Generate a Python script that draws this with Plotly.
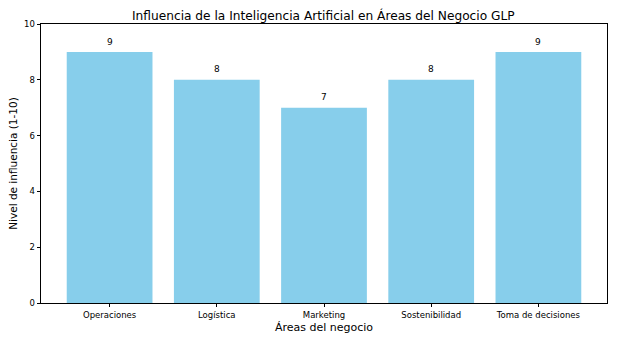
import plotly.graph_objects as go

categories = ["Operaciones", "Logística", "Marketing", "Sostenibilidad", "Toma de decisiones"]
values = [9, 8, 7, 8, 9]
y_ticks = [0, 2, 4, 6, 8, 10]

font = "DejaVu Sans"
fig = go.Figure()
fig.add_trace(go.Bar(
    x=list(range(len(categories))), y=values, width=0.8,
    marker=dict(color="#87CEEB", line=dict(width=0)),
    hoverinfo="skip",
))
for i, v in enumerate(values):
    fig.add_annotation(x=i, y=v + 0.12, text=str(v), showarrow=False,
                       yanchor="bottom", font=dict(family=font, size=9, color="black"))

axis_common = dict(showline=True, linecolor="black", linewidth=0.8, mirror=True,
                   ticks="outside", ticklen=3.5, tickcolor="black", tickwidth=0.8,
                   showgrid=False, zeroline=False, automargin=False,
                   tickfont=dict(family=font, size=8.5, color="black"))
fig.update_layout(
    width=617, height=340,
    margin=dict(l=41, r=10, t=24, b=37),
    plot_bgcolor="white", paper_bgcolor="white",
    showlegend=False,
    title=dict(text="Influencia de la Inteligencia Artificial en Áreas del Negocio GLP",
               x=0.524, xanchor="center", y=0.953, yanchor="middle",
               font=dict(family=font, size=12.2, color="black")),
    xaxis=dict(range=[-0.64, 4.64], tickmode="array",
               tickvals=list(range(len(categories))), ticktext=categories,
               title=dict(text="Áreas del negocio", font=dict(family=font, size=11, color="black"), standoff=4),
               **axis_common),
    yaxis=dict(range=[0, 10], tickmode="array", tickvals=y_ticks,
               ticktext=[str(t) for t in y_ticks],
               title=dict(text="Nivel de influencia (1-10)", font=dict(family=font, size=10.5, color="black"), standoff=4),
               **axis_common),
)
fig.write_html("out.html")
